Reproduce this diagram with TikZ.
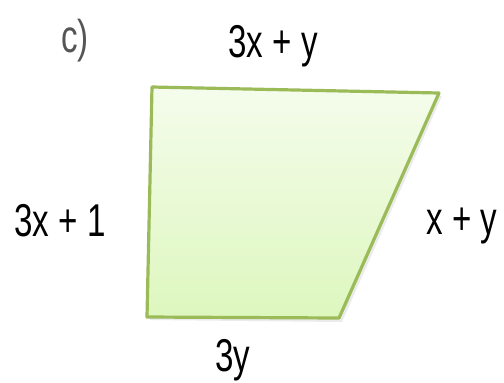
\documentclass[tikz,border=0pt]{standalone}
\usepackage{fontspec}
\setmainfont[FakeStretch=0.72]{Liberation Sans}
\definecolor{edgegreen}{HTML}{9BBB59}
\definecolor{filltop}{HTML}{F5FCEC}
\definecolor{fillbot}{HTML}{DDF7BE}
\definecolor{labelgray}{HTML}{555555}
\begin{document}
\begin{tikzpicture}[x=0.5pt, y=-0.5pt]
% Frame (pixel grid of the reference)
\useasboundingbox (0,0) rectangle (504,382);

% Trapezoid with soft shadow
\fill[black!8] (154,90) -- (442,96) -- (342,322) -- (150,320) -- cycle;
\path[top color=filltop, bottom color=fillbot, draw=edgegreen, line width=1.6pt, line join=round]
  (152,87) -- (439,93) -- (339,318) -- (147,317) -- cycle;

% Side labels
\node (part) at (75,41) [font=\fontsize{23}{27}\selectfont, text=labelgray] {c)};
\node (top) at (273,46) [font=\fontsize{23}{27}\selectfont] {3x + y};
\node (left) at (60,221) [font=\fontsize{23}{27}\selectfont] {3x + 1};
\node (right) at (462,226) [font=\fontsize{23}{27}\selectfont] {x + y};
\node (bottom) at (233,360) [font=\fontsize{23}{27}\selectfont] {3y};
\end{tikzpicture}
\end{document}
